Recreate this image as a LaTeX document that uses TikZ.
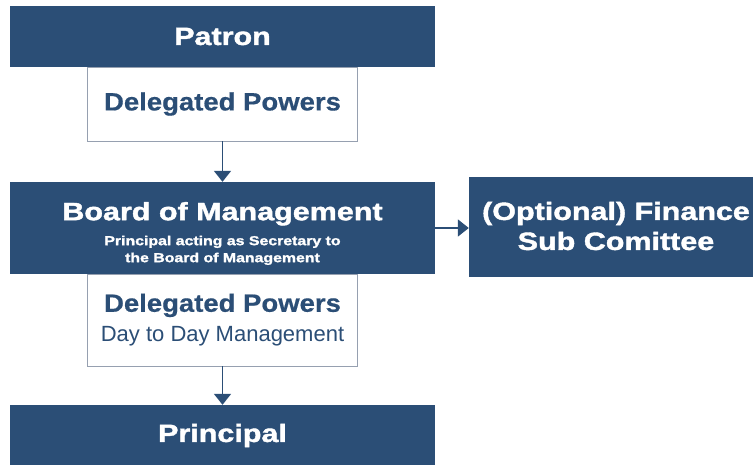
\documentclass[tikz,border=0pt]{standalone}
\usepackage{fontspec}
\setmainfont{Liberation Sans}
\newfontfamily\heavyfont[FakeStretch=1.22,FakeBold=1.6]{Liberation Sans}
\newfontfamily\wideboldfont[FakeStretch=1.1,FakeBold=0.6]{Liberation Sans}
\usetikzlibrary{arrows.meta}
\definecolor{headblue}{RGB}{43,78,118}
\definecolor{edgegrey}{RGB}{150,160,176}

\begin{document}
\begin{tikzpicture}[
            x=1pt, y=1pt,
            head/.style={rectangle, fill=headblue, draw=none, inner sep=0pt, minimum width=425pt, minimum height=61pt, text=white, font=\heavyfont\bfseries\fontsize{25}{30}\selectfont},
            power/.style={rectangle, fill=white, draw=edgegrey, line width=0.8pt, inner sep=0pt, minimum width=270pt, text=headblue, align=center},
            label/.style={inner sep=0pt, text=white, align=center},
            link/.style={-{Triangle[width=17pt,length=11pt]}, line width=1.8pt, draw=headblue, fill=headblue}
        ]
        \useasboundingbox (0,0) rectangle (753,464);
        \clip (0,0) rectangle (753,464);

        \node[head] (patron) at (222.5,427.5) {Patron};
        \node[power, minimum height=74pt, font=\wideboldfont\bfseries\fontsize{25}{30}\selectfont] (powers) at (222.5,360) {Delegated Powers};

        \node[head, minimum height=92pt] (board) at (222.5,236) {};
        \node[label, font=\heavyfont\bfseries\fontsize{13}{17}\selectfont] (boardtext) at (222.5,230.5)
            {{\fontsize{25}{30}\selectfont Board of Management}\\[8pt]Principal acting as Secretary to\\the Board of Management};

        \node[head, minimum width=294pt, minimum height=100pt] (finance) at (616,237) {};
        \node[label, font=\heavyfont\bfseries\fontsize{25}{30}\selectfont] (financetext) at (616,238)
            {(Optional) Finance\\Sub Comittee};

        \node[power, minimum height=92pt, font=\fontsize{22}{30}\selectfont] (daily) at (222.5,144)
            {{\wideboldfont\bfseries\fontsize{25}{30}\selectfont Delegated Powers}\\Day to Day Management};
        \node[head] (principal) at (222.5,28.5) {Principal};

        \draw[link] (powers) -- (board);
        \draw[link] (board.east) -- (board.east -| finance.west);
        \draw[link] (daily) -- (principal);

    \end{tikzpicture}
\end{document}
